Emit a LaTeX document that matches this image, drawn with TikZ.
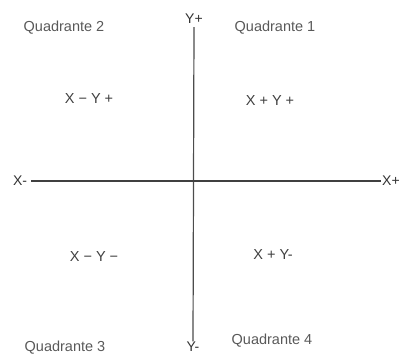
\documentclass[tikz,border=0pt]{standalone}
\usepackage{fontspec}
\setmainfont{Liberation Sans}
\begin{document}
\begin{tikzpicture}[x=1pt, y=-1pt,
    eixo/.style={draw=black!75, line width=1.6pt},
    rotulo/.style={inner sep=3pt, text=black!80, font=\fontsize{14}{16}\selectfont},
    quad/.style={inner sep=0pt, text=black!65, font=\fontsize{14.5}{16}\selectfont},
    sinal/.style={inner sep=0pt, text=black!75, font=\fontsize{14.5}{16}\selectfont}]
    \useasboundingbox (0,0) rectangle (399,356);

    % eixos
    \node[rotulo] (yp) at (194, 19) {Y+};
    \node[rotulo, inner sep=0.5pt] (ym) at (193, 347) {Y-};
    \node[rotulo, inner sep=4pt] (xm) at (20, 181) {X-};
    \node[rotulo, inner sep=1pt] (xp) at (391, 181) {X+};
    \draw[eixo, line width=1.2pt, draw=black!70] (yp.south) -- (ym.north);
    \draw[eixo] (xm.east) -- (xp.west);

    % quadrantes
    \node[quad] (q1) at (275, 28) {Quadrante 1};
    \node[quad] (q2) at (64, 28) {Quadrante 2};
    \node[quad] (q3) at (65, 348) {Quadrante 3};
    \node[quad] (q4) at (272, 341) {Quadrante 4};

    % sinais
    \node[sinal] (s1) at (270, 101) {X + Y +};
    \node[sinal] (s2) at (89, 99) {X − Y +};
    \node[sinal] (s3) at (94, 257) {X − Y −};
    \node[sinal] (s4) at (273, 255) {X + Y-};
\end{tikzpicture}
\end{document}
